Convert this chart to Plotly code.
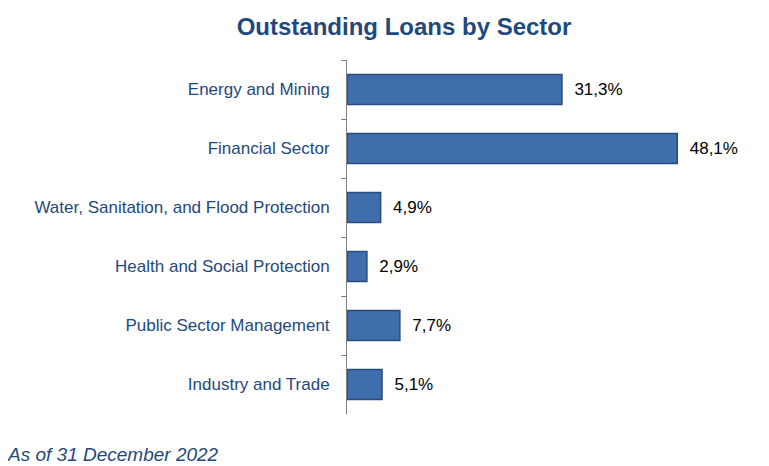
import plotly.graph_objects as go

categories = ["Energy and Mining", "Financial Sector",
              "Water, Sanitation, and Flood Protection",
              "Health and Social Protection", "Public Sector Management",
              "Industry and Trade"]
values = [31.3, 48.1, 4.9, 2.9, 7.7, 5.1]
labels = ["31,3%", "48,1%", "4,9%", "2,9%", "7,7%", "5,1%"]

navy = "#1F497D"

# page body has an 8px default margin; compensate by sizing the figure
W, H = 761, 458
L, R, T, B = 339, 10, 52, 52

fig = go.Figure()
fig.add_trace(go.Bar(
    y=categories, x=values, orientation="h",
    text=labels, texttemplate="\u00a0\u00a0%{text}", textposition="outside",
    textfont=dict(family="Liberation Sans, Arial", size=17, color="#000000"),
    marker=dict(color="#3E6EAB", line=dict(color="#2A4C7C", width=1.5)),
    cliponaxis=False, hoverinfo="skip",
))

fig.update_layout(
    width=W, height=H,
    margin=dict(l=L, r=R, t=T, b=B),
    paper_bgcolor="white", plot_bgcolor="white",
    bargap=0.49,
    showlegend=False,
    font=dict(family="Liberation Sans, Arial", size=17, color=navy),
    title=dict(text="<b>Outstanding Loans by Sector</b>",
               x=(404 - 8) / W, xanchor="center", y=1 - (27 - 8) / H,
               yanchor="middle",
               font=dict(size=24, color=navy)),
    xaxis=dict(range=[0, 60], visible=False, fixedrange=True),
    yaxis=dict(autorange="reversed", type="category",
               showline=True, linecolor="#808080", linewidth=1,
               ticks="outside", ticklen=5, tickcolor="#808080",
               tickson="boundaries", ticklabelstandoff=13,
               tickfont=dict(size=17, color=navy)),
    annotations=[dict(text="<i>As of 31 December 2022</i>",
                      xref="paper", yref="paper",
                      x=(5 - 8 - L) / (W - L - R),
                      y=(H - B - (454 - 8)) / (H - T - B),
                      xanchor="left", yanchor="middle", showarrow=False,
                      font=dict(size=19, color=navy))],
)

fig.write_html("out.html")
